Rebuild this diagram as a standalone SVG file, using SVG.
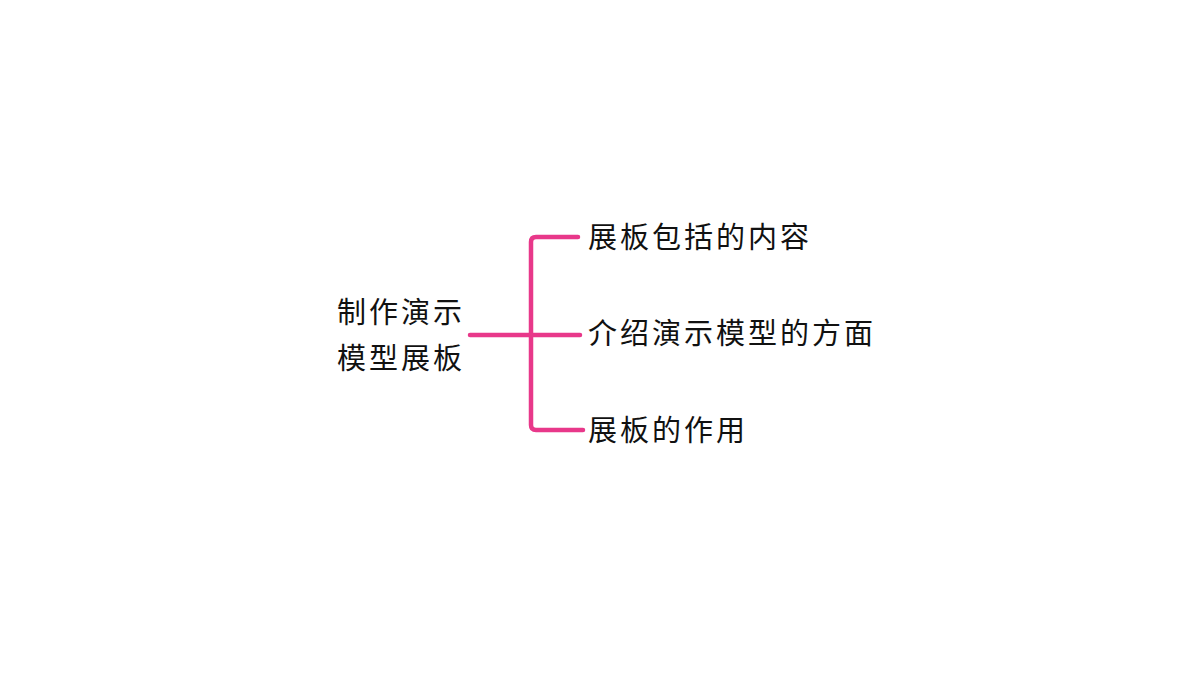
<svg xmlns="http://www.w3.org/2000/svg" width="1200" height="675" viewBox="0 0 1200 675">
<style>
text{font-family:"Noto Sans CJK SC","Noto Sans CJK JP",sans-serif;font-size:29px;fill:#111;letter-spacing:3px}
.br{fill:none;stroke:#e8388a;stroke-width:4.5;stroke-linecap:round;stroke-linejoin:round}
</style>
<rect width="1200" height="675" fill="#fff"/>
<g id="connectors">
<path class="br" d="M578 237 H536 Q531 237 531 242 V425 Q531 430 536 430 H583"/>
<path class="br" d="M470 335 H580"/>
</g>
<g id="root"><text x="337" y="323">制作演示</text><text x="337" y="369">模型展板</text></g>
<g id="n1"><text x="588" y="248">展板包括的内容</text></g>
<g id="n2"><text x="588" y="344">介绍演示模型的方面</text></g>
<g id="n3"><text x="588" y="441">展板的作用</text></g>
</svg>
